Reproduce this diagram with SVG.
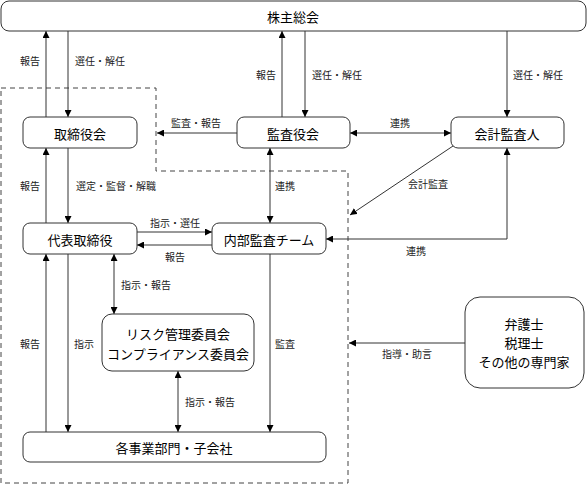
<svg xmlns="http://www.w3.org/2000/svg" width="587" height="485" viewBox="0 0 587 485">
<defs>
<marker id="ah" viewBox="0 0 10 10" refX="10" refY="5" markerWidth="7" markerHeight="7" markerUnits="userSpaceOnUse" orient="auto-start-reverse">
<path d="M0,0 L10,5 L0,10 z" fill="#000"/>
</marker>
<style>
.box{fill:#fff;stroke:#333;stroke-width:1}
.t{font-family:"Noto Sans CJK JP","Noto Sans",sans-serif;font-size:13px;fill:#000;text-anchor:middle;dominant-baseline:central}
.l{font-family:"Noto Sans CJK JP","Noto Sans",sans-serif;font-size:10px;fill:#222;text-anchor:middle;dominant-baseline:central}
.c{stroke:#333;stroke-width:1;fill:none}
.a{marker-end:url(#ah)}
.b{marker-start:url(#ah);marker-end:url(#ah)}
.d{fill:none;stroke:#444;stroke-width:1;stroke-dasharray:5,4}
</style>
</defs>
<rect width="587" height="485" fill="#fff"/>
<path class="d" d="M1,88 H156 V171 H348 V483 H1 Z"/>
<g id="connectors">
<line class="c a" x1="46" y1="117" x2="46" y2="31"/>
<line class="c a" x1="68" y1="31" x2="68" y2="117"/>
<line class="c a" x1="282" y1="117" x2="282" y2="31"/>
<line class="c a" x1="305" y1="31" x2="305" y2="117"/>
<line class="c a" x1="507" y1="31" x2="507" y2="117"/>
<line class="c a" x1="237" y1="133" x2="157" y2="133"/>
<line class="c b" x1="350" y1="133" x2="451" y2="133"/>
<line class="c b" x1="270" y1="148" x2="270" y2="223"/>
<line class="c a" x1="46" y1="223" x2="46" y2="148"/>
<line class="c a" x1="68" y1="148" x2="68" y2="223"/>
<line class="c a" x1="453" y1="146" x2="350" y2="215"/>
<path class="c b" d="M507,148 V239 H326"/>
<line class="c a" x1="137" y1="232" x2="212" y2="232"/>
<line class="c a" x1="212" y1="245" x2="137" y2="245"/>
<line class="c b" x1="114" y1="254" x2="114" y2="314"/>
<line class="c a" x1="46" y1="432" x2="46" y2="254"/>
<line class="c a" x1="68" y1="254" x2="68" y2="432"/>
<line class="c a" x1="270" y1="254" x2="270" y2="432"/>
<line class="c b" x1="178" y1="371" x2="178" y2="432"/>
<line class="c a" x1="465" y1="343" x2="349" y2="343"/>
<text class="l" x="30" y="60">報告</text>
<text class="l" x="100" y="60">選任・解任</text>
<text class="l" x="266" y="74">報告</text>
<text class="l" x="337" y="74">選任・解任</text>
<text class="l" x="538" y="74">選任・解任</text>
<text class="l" x="196" y="122">監査・報告</text>
<text class="l" x="400" y="122">連携</text>
<text class="l" x="30" y="185">報告</text>
<text class="l" x="116" y="185">選定・監督・解職</text>
<text class="l" x="285" y="185">連携</text>
<text class="l" x="428" y="183">会計監査</text>
<text class="l" x="175" y="222">指示・選任</text>
<text class="l" x="175" y="256">報告</text>
<text class="l" x="416" y="250">連携</text>
<text class="l" x="146" y="284">指示・報告</text>
<text class="l" x="30" y="343">報告</text>
<text class="l" x="84" y="343">指示</text>
<text class="l" x="285" y="343">監査</text>
<text class="l" x="210" y="401">指示・報告</text>
<text class="l" x="407" y="353">指導・助言</text>
</g>
<g id="shareholders"><rect class="box" x="1" y="1" width="585" height="30" rx="8"/><text class="t" x="293" y="16">株主総会</text></g>
<g id="board"><rect class="box" x="23" y="117" width="114" height="31" rx="7"/><text class="t" x="80" y="133">取締役会</text></g>
<g id="auditors"><rect class="box" x="237" y="117" width="113" height="31" rx="7"/><text class="t" x="293" y="133">監査役会</text></g>
<g id="accounting"><rect class="box" x="451" y="117" width="113" height="31" rx="7"/><text class="t" x="507" y="133">会計監査人</text></g>
<g id="president"><rect class="box" x="23" y="223" width="114" height="31" rx="7"/><text class="t" x="80" y="239">代表取締役</text></g>
<g id="internal"><rect class="box" x="212" y="223" width="114" height="31" rx="7"/><text class="t" x="269" y="239">内部監査チーム</text></g>
<g id="committee"><rect class="box" x="102" y="314" width="152" height="57" rx="10"/><text class="t" x="178" y="333">リスク管理委員会</text><text class="t" x="178" y="353">コンプライアンス委員会</text></g>
<g id="divisions"><rect class="box" x="23" y="432" width="303" height="30" rx="7"/><text class="t" x="174" y="447">各事業部門・子会社</text></g>
<g id="experts"><rect class="box" x="465" y="297" width="119" height="91" rx="15"/><text class="t" x="524" y="323">弁護士</text><text class="t" x="524" y="342">税理士</text><text class="t" x="524" y="361">その他の専門家</text></g>
</svg>
